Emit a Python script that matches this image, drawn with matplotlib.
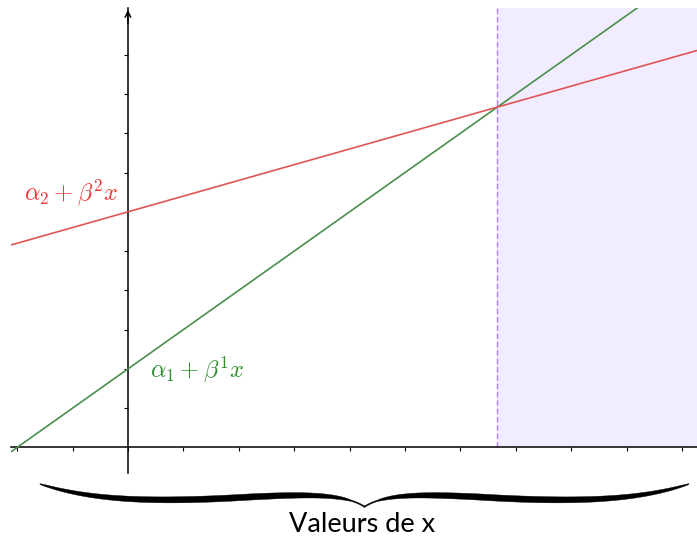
import numpy as np
import matplotlib
matplotlib.use("Agg")
import matplotlib.pyplot as plt
from matplotlib.patches import Polygon

plt.rcParams['mathtext.fontset'] = 'cm'

# line parameters: intercept alpha, slope beta
alpha = [2.0, 6.0]
beta = [1.0, 0.4]
line_colors = ['#4a8f4a', '#e05555']
text_colors = ['#2e8b2e', '#ee3333']
line_labels = [r'$\alpha_1 + \beta^1 x$', r'$\alpha_2 + \beta^2 x$']
label_pos = [(1.25, 1.98), (-1.03, 6.48)]

xticks = list(range(-2, 11))
yticks = list(range(1, 11))
xlim = (-2.11, 10.27)
ylim = (-0.65, 11.19)

W, H = 697, 540
fig = plt.figure(figsize=(W / 100, H / 100), dpi=100)
ax = fig.add_axes([11 / W, (H - 473) / H, (W - 11) / W, (473 - 8) / H])
ax.set_xlim(xlim)
ax.set_ylim(ylim)

# axes through the origin
for s in ['top', 'right']:
    ax.spines[s].set_visible(False)
ax.spines['left'].set_position(('data', 0))
ax.spines['bottom'].set_position(('data', 0))
ax.spines['left'].set_linewidth(1.1)
ax.spines['bottom'].set_linewidth(1.1)
ax.set_xticks(xticks)
ax.set_yticks(yticks)
ax.set_xticklabels([])
ax.set_yticklabels([])
ax.tick_params(direction='out', length=3, width=0.8)
ax.annotate('', xy=(0, 11.14), xytext=(0, 10.8),
            arrowprops=dict(arrowstyle='->', lw=1.1, color='black',
                            shrinkA=0, shrinkB=0))

# region where line 1 is above line 2
x_cross = (alpha[1] - alpha[0]) / (beta[0] - beta[1])
ax.fill_between([x_cross, xlim[1]], 0, ylim[1], color='#f1ecff', lw=0, zorder=0)
ax.plot([x_cross, x_cross], [0, ylim[1]], ls='--', color='#b57ffc', lw=1.0,
        dashes=(4, 2), zorder=1)

for a, b, c, tc, lab, pos in zip(alpha, beta, line_colors, text_colors,
                                 line_labels, label_pos):
    ax.axline((0, a), slope=b, color=c, lw=1.2, zorder=3)
    ax.text(pos[0], pos[1], lab, color=tc, fontsize=17.5, ha='center', va='center')


# curly brace under the axis (pixel coords, y down)
def bez(p0, p1, p2, p3, n=80):
    t = np.linspace(0, 1, n)[:, None]
    return ((1 - t) ** 3 * np.array(p0) + 3 * (1 - t) ** 2 * t * np.array(p1)
            + 3 * (1 - t) * t ** 2 * np.array(p2) + t ** 3 * np.array(p3))


seg_a = bez((40, 484), (90, 500), (150, 503), (250, 497))
seg_b = bez((250, 497), (310, 494), (345, 494), (365, 507))
half = np.vstack([seg_a, seg_b[1:]])
t = np.linspace(0, 1, len(half))
w = 0.6 + 5.6 * np.sin(np.pi * np.clip(t * 1.1, 0, 1)) ** 0.6
w = np.maximum(w, 1.2 * (t > 0.5))
d = np.gradient(half, axis=0)
nrm = np.column_stack([-d[:, 1], d[:, 0]])
nrm /= np.linalg.norm(nrm, axis=1)[:, None]
up = half + nrm * w[:, None] / 2
dn = half - nrm * w[:, None] / 2
cx = 364.5
for sgn in [1, -1]:
    pts = np.vstack([up, dn[::-1]])
    pts[:, 0] = cx + sgn * (pts[:, 0] - cx)
    fpts = np.column_stack([pts[:, 0] / W, 1 - pts[:, 1] / H])
    fig.add_artist(Polygon(fpts, closed=True, transform=fig.transFigure,
                           color='black', lw=0.3))

fig.text(362 / W, 1 - 525 / H, 'Valeurs de x', ha='center', va='center',
         fontsize=19.5, family='Lato')

fig.savefig('out.png', dpi=100)
